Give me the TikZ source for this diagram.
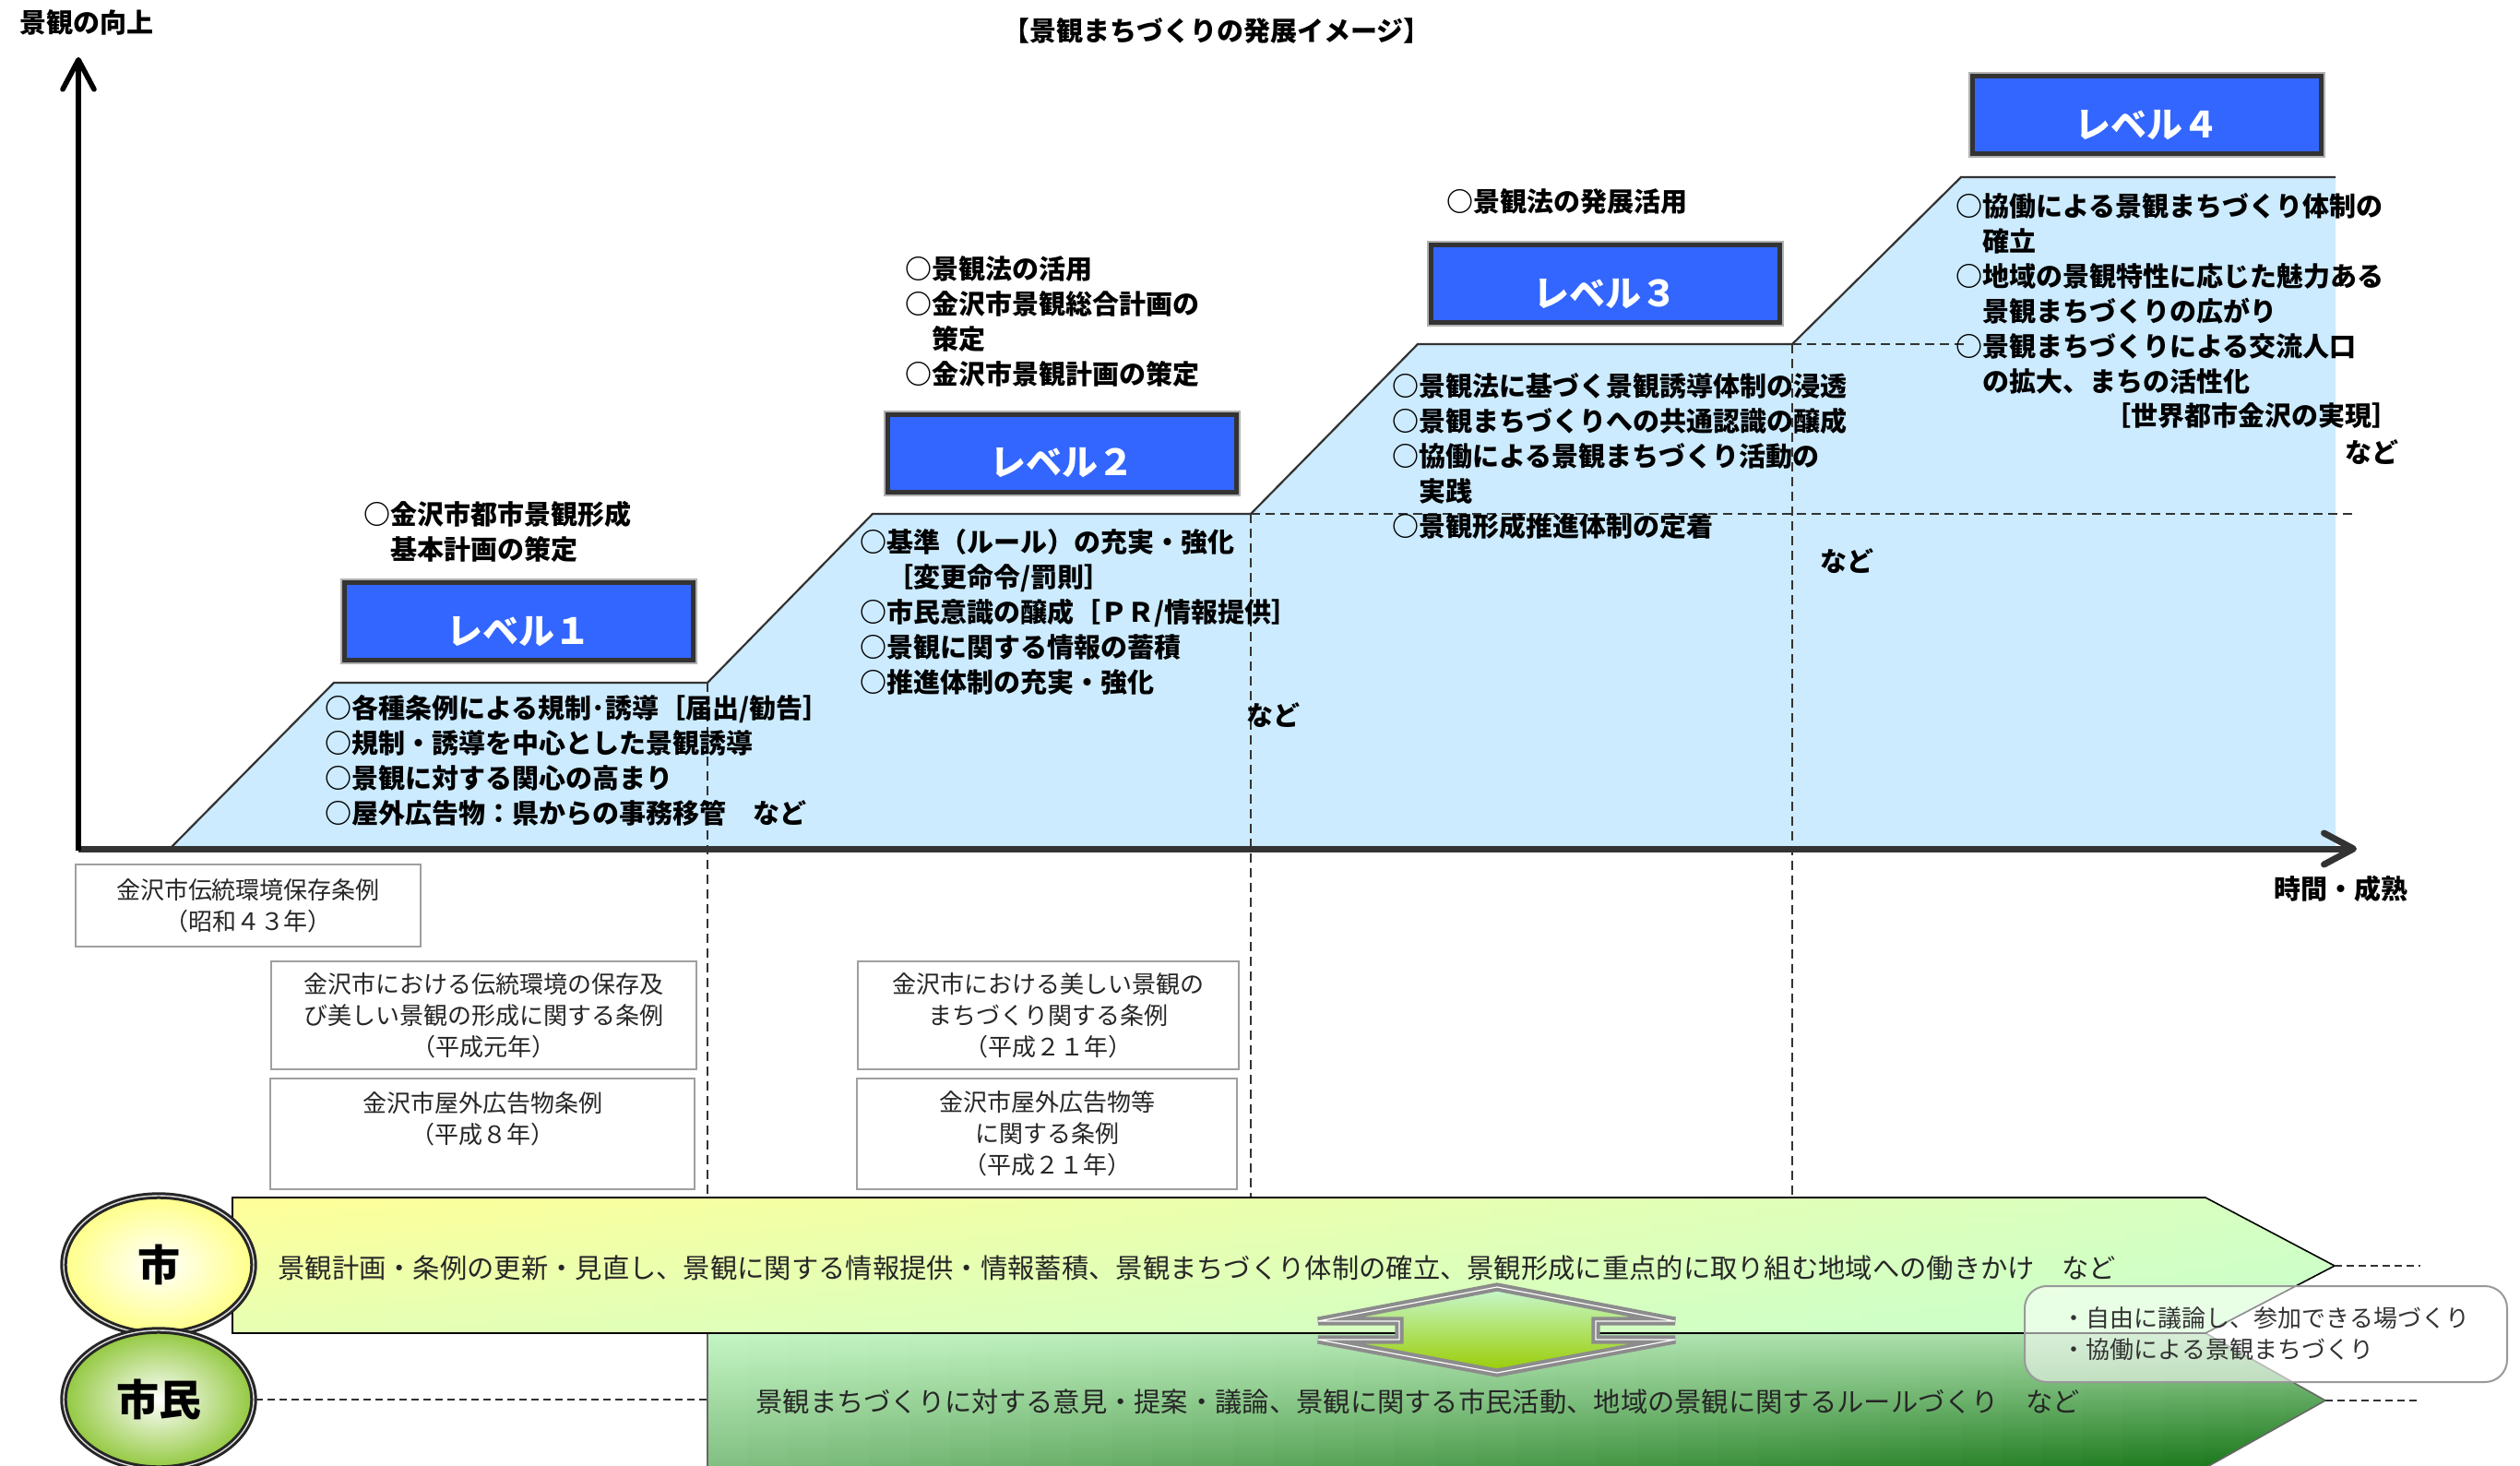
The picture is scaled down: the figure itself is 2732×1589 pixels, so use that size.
\documentclass[tikz,border=0pt]{standalone}
\usepackage{fontspec}
\setmainfont{Noto Sans CJK JP}
\usetikzlibrary{shapes.geometric,arrows.meta}
\definecolor{lvblue}{HTML}{3366FF}
\definecolor{regblue}{HTML}{CCEBFF}
\definecolor{dk}{HTML}{333333}
\definecolor{shiyel}{HTML}{FFFF88}
\definecolor{shigrn}{HTML}{92C83E}
\definecolor{arrlight}{HTML}{C8F8D0}
\definecolor{arrdark}{HTML}{99CC00}
% green band corner colours
\definecolor{gTL}{HTML}{C4F5C4}
\definecolor{gTR}{HTML}{A4D8A4}
\definecolor{gBL}{HTML}{80BE80}
\definecolor{gBR}{HTML}{147414}
% yellow band corner colours
\definecolor{yTL}{HTML}{FFFF99}
\definecolor{yTR}{HTML}{D6FFC2}
\definecolor{yBL}{HTML}{E6FFB4}
\definecolor{yBR}{HTML}{C8FFCC}
\tikzset{
  lvbox/.style={draw=dk, line width=2.5pt, fill=lvblue, minimum width=189pt, minimum height=42pt, inner sep=0pt,
                preaction={draw=gray!60, line width=4.5pt}},
  lvtext/.style={text=white, font=\bfseries\fontsize{19.5pt}{19.5pt}\selectfont, inner sep=0pt},
  blist/.style={anchor=north west, align=left, inner sep=0pt, font=\bfseries\fontsize{14.5pt}{19pt}\selectfont},
  btext/.style={inner sep=0pt, font=\bfseries\fontsize{14.5pt}{19pt}\selectfont},
  ordbox/.style={draw=gray!75, line width=1pt, fill=white, align=center, inner sep=0pt,
                 font=\fontsize{13pt}{17pt}\selectfont, text=black!85},
  vdash/.style={draw=dk, line width=1pt, dash pattern=on 5pt off 3pt},
  bdash/.style={draw=dk, line width=0.8pt, dash pattern=on 4pt off 2.5pt},
  bandtext/.style={anchor=west, inner sep=0pt, font=\fontsize{14.65pt}{17pt}\selectfont, text=black!85},
  actor/.style={ellipse, draw=black!85, line width=1.5pt, double=gray!25, double distance=0.7pt,
                minimum width=103pt, minimum height=75pt, inner sep=0pt,
                font=\bfseries\fontsize{23pt}{23pt}\selectfont},
}
\begin{document}
\begin{tikzpicture}[x=0.5pt,y=-0.5pt]
\useasboundingbox (0,0) rectangle (2732,1589);

% ---- stepped region ----
\coordinate (s0) at (186,918);
\coordinate (s1) at (362,740);
\coordinate (s2) at (767,740);
\coordinate (s3) at (946,557);
\coordinate (s4) at (1356,557);
\coordinate (s5) at (1537,373);
\coordinate (s6) at (1943,373);
\coordinate (s7) at (2126,192);
\coordinate (s8) at (2532,192);
\coordinate (s9) at (2532,918);
\fill[regblue] (s0) -- (s1) -- (s2) -- (s3) -- (s4) -- (s5) -- (s6) -- (s7) -- (s8) -- (s9) -- cycle;
\draw[dk, line width=1.1pt] (s0) -- (s1) -- (s2) -- (s3) -- (s4) -- (s5) -- (s6) -- (s7) -- (s8);

% ---- dashed guides ----
\coordinate (d1) at (767,1298);
\coordinate (d2) at (1356,1298);
\coordinate (d3) at (1943,1298);
\coordinate (h1) at (2552,557);
\coordinate (h2) at (2130,373);
\draw[vdash] (s2) -- (d1);
\draw[vdash] (s4) -- (d2);
\draw[vdash] (s6) -- (d3);
\draw[vdash] (s4) -- (h1);
\draw[vdash] (s6) -- (h2);

% ---- axes ----
\coordinate (o) at (85,920);
\coordinate (ob) at (85,922);
\coordinate (ytop) at (85,62);
\coordinate (xend) at (2555,920);
\draw[dk, line width=3.5pt, -{Straight Barb[length=16pt,width=17pt,round]}] (o) -- (xend);
\draw[black, line width=2.8pt, -{Straight Barb[length=16pt,width=17pt,round]}] (ob) -- (ytop);

\node[btext, anchor=center] (title) at (1319,33) {【景観まちづくりの発展イメージ】};
\node[btext, anchor=west] (ylab) at (21,24) {景観の向上};
\node[btext, anchor=west] (xlab) at (2465,963) {時間・成熟};

% ---- level boxes ----
\node[lvbox] (lv1) at (562.5,673.5) {};
\node[lvtext] (lv1t) at (562.5,685) {レベル１};
\node[lvbox] (lv2) at (1151.5,491) {};
\node[lvtext] (lv2t) at (1151.5,502) {レベル２};
\node[lvbox] (lv3) at (1740.5,308) {};
\node[lvtext] (lv3t) at (1740.5,319) {レベル３};
\node[lvbox] (lv4) at (2327.5,125) {};
\node[lvtext] (lv4t) at (2327.5,136) {レベル４};

% ---- level texts ----
\node[blist] (l1u) at (394,543) {○金沢市都市景観形成\\　基本計画の策定};
\node[blist] (l1l) at (352,753) {○各種条例による規制･誘導［届出/勧告］\\○規制・誘導を中心とした景観誘導\\○景観に対する関心の高まり\\○屋外広告物：県からの事務移管　など};

\node[blist] (l2u) at (981,277) {○景観法の活用\\○金沢市景観総合計画の\\　策定\\○金沢市景観計画の策定};
\node[blist] (l2l) at (932,573) {○基準（ルール）の充実・強化\\　［変更命令/罰則］\\○市民意識の醸成［ＰＲ/情報提供］\\○景観に関する情報の蓄積\\○推進体制の充実・強化};
\node[btext] (l2n) at (1380,775) {など};

\node[btext, anchor=west] (l3u) at (1568,218) {○景観法の発展活用};
\node[blist] (l3l) at (1509,404) {○景観法に基づく景観誘導体制の浸透\\○景観まちづくりへの共通認識の醸成\\○協働による景観まちづくり活動の\\　実践\\○景観形成推進体制の定着};
\node[btext] (l3n) at (2002,608) {など};

\node[blist] (l4l) at (2120,209) {○協働による景観まちづくり体制の\\　確立\\○地域の景観特性に応じた魅力ある\\　景観まちづくりの広がり\\○景観まちづくりによる交流人口\\　の拡大、まちの活性化};
\node[btext, anchor=east] (l4w) at (2601,451) {［世界都市金沢の実現］};
\node[btext, anchor=east] (l4n) at (2601,490) {など};

% ---- ordinance boxes ----
\node[ordbox, minimum width=187pt, minimum height=44.5pt] (oA) at (269,981.5) {金沢市伝統環境保存条例\\（昭和４３年）};
\node[ordbox, minimum width=230.5pt, minimum height=58.5pt] (oB) at (524.5,1100.5) {金沢市における伝統環境の保存及\\び美しい景観の形成に関する条例\\（平成元年）};
\node[ordbox, minimum width=230pt, minimum height=60pt] (oC) at (523,1229) {金沢市屋外広告物条例\\（平成８年）\\\mbox{}};
\node[ordbox, minimum width=206.5pt, minimum height=58.5pt] (oD) at (1136.5,1100.5) {金沢市における美しい景観の\\まちづくり関する条例\\（平成２１年）};
\node[ordbox, minimum width=206pt, minimum height=60pt] (oE) at (1135,1229) {金沢市屋外広告物等\\に関する条例\\（平成２１年）};

% ---- bands ----
\coordinate (gtip) at (2521,1518);
\coordinate (ytip) at (2531,1372);
\begin{scope}
  \clip (767,1445) -- (2391,1445) -- (gtip) -- (2391,1591) -- (767,1591) -- cycle;
  \foreach \i in {0,...,39}{
    \pgfmathsetmacro\mixp{100-\i*100/39}
    \shade[top color=gTL!\mixp!gTR, bottom color=gBL!\mixp!gBR]
      ({767+\i*43.85},1445) rectangle ({767+(\i+1)*43.85+2},1591);
  }
\end{scope}
\draw[black!60, line width=0.8pt] (767,1445) -- (2391,1445) -- (gtip) -- (2391,1591) -- (767,1591) -- cycle;
\begin{scope}
  \clip (252,1298) -- (2391,1298) -- (ytip) -- (2391,1445) -- (252,1445) -- cycle;
  \foreach \i in {0,...,39}{
    \pgfmathsetmacro\mixp{100-\i*100/39}
    \shade[top color=yTL!\mixp!yTR, bottom color=yBL!\mixp!yBR]
      ({252+\i*56.98},1298) rectangle ({252+(\i+1)*56.98+2},1445);
  }
\end{scope}
\draw[black, line width=0.8pt] (252,1298) -- (2391,1298) -- (ytip) -- (2391,1445) -- (252,1445) -- cycle;

\node[bandtext] (ytext) at (301,1374) {景観計画・条例の更新・見直し、景観に関する情報提供・情報蓄積、景観まちづくり体制の確立、景観形成に重点的に取り組む地域への働きかけ　など};
\node[bandtext] (gtext) at (819,1519) {景観まちづくりに対する意見・提案・議論、景観に関する市民活動、地域の景観に関するルールづくり　など};

% ---- up-down arrow ----
\path[draw=gray!90, line width=2pt, double=white, double distance=0.6pt, top color=arrlight, bottom color=arrdark]
  (1623,1395) -- (1816,1432) -- (1730,1432) -- (1730,1452) -- (1816,1452) -- (1623,1488)
  -- (1429,1452) -- (1517,1452) -- (1517,1432) -- (1429,1432) -- cycle;

% ---- callout ----
\node[draw=gray!80, line width=1pt, rounded corners=12pt, fill=white, fill opacity=0.55, text opacity=1,
      minimum width=261.5pt, minimum height=52pt, align=left, inner sep=0pt,
      font=\fontsize{13pt}{17pt}\selectfont, text=black!80] (cb) at (2456.5,1446)
      {・自由に議論し、参加できる場づくり\\・協働による景観まちづくり};

% ---- right dashed ----
\coordinate (yend) at (2624,1372);
\coordinate (gend) at (2624,1518);
\draw[bdash] (ytip) -- (yend);
\draw[bdash] (gtip) -- (gend);

% ---- actors ----
\node[actor, inner color=white, outer color=shiyel] (shi) at (172,1371) {市};
\node[actor, inner color=white, outer color=shigrn] (shimin) at (172,1517) {市民};
\coordinate (gleft) at (767,1517);
\draw[bdash] (shimin.east) -- (gleft);
\end{tikzpicture}
\end{document}
